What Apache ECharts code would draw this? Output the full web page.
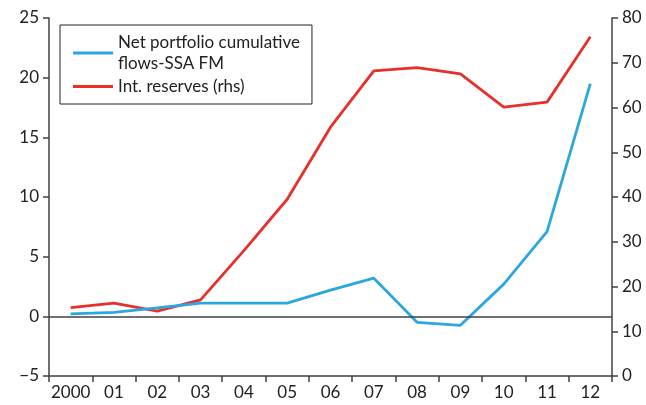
<!DOCTYPE html>
<html>
<head>
<meta charset="utf-8">
<script src="https://cdn.jsdelivr.net/npm/echarts@6/dist/echarts.min.js"></script>
<style>
  html, body { margin: 0; padding: 0; background: #fff; }
  #chart { width: 646px; height: 405px; }
</style>
</head>
<body>
<div id="chart"></div>
<script>
// years on the category axis
const years = ['2000', '01', '02', '03', '04', '05', '06', '07', '08', '09', '10', '11', '12'];
// net portfolio cumulative flows, SSA frontier markets (lhs)
const netFlows = [0.2, 0.33, 0.7, 1.1, 1.1, 1.1, 2.2, 3.2, -0.5, -0.75, 2.7, 7.1, 19.5];
// international reserves (rhs)
const reserves = [15.3, 16.3, 14.5, 17.0, 28.0, 39.5, 55.6, 68.2, 68.9, 67.5, 60.1, 61.2, 75.8];

const axisColor = '#404040';
const font = 'Lato, "Open Sans", sans-serif';

const chart = echarts.init(document.getElementById('chart'));

chart.setOption({
  animation: false,
  textStyle: { fontFamily: font },
  grid: { left: 49, right: 34, top: 18, bottom: 29 },
  legend: {
    orient: 'vertical',
    left: 60,
    top: 25,
    padding: [7, 12, 7, 13],
    itemGap: 2,
    borderColor: '#222',
    borderWidth: 1,
    icon: 'rect',
    itemWidth: 40,
    itemHeight: 3,
    textStyle: { fontSize: 17, color: '#222', fontFamily: font, lineHeight: 21 },
    data: ['Net portfolio cumulative\nflows-SSA FM', 'Int. reserves (rhs)']
  },
  xAxis: {
    type: 'category',
    data: years,
    boundaryGap: true,
    axisLine: { onZero: false, lineStyle: { color: axisColor, width: 1.5 } },
    axisTick: { show: true, interval: 0, length: 6, lineStyle: { color: axisColor, width: 1.5 } },
    axisLabel: { interval: 0, fontSize: 17, color: '#222', margin: 8 },
    splitLine: { show: false }
  },
  yAxis: [
    {
      type: 'value',
      min: -5,
      max: 25,
      interval: 5,
      position: 'left',
      axisLine: { show: true, lineStyle: { color: axisColor, width: 1.5 } },
      axisTick: { show: true, length: 6, lineStyle: { color: axisColor, width: 1.5 } },
      axisLabel: {
        fontSize: 17, color: '#222', margin: 10,
        formatter: v => (v < 0 ? '\u2212' + Math.abs(v) : String(v))
      },
      splitLine: { show: false }
    },
    {
      type: 'value',
      min: 0,
      max: 80,
      interval: 10,
      position: 'right',
      axisLine: { show: true, lineStyle: { color: axisColor, width: 1.5 } },
      axisTick: { show: true, length: 6, lineStyle: { color: axisColor, width: 1.5 } },
      axisLabel: { fontSize: 17, color: '#222', margin: 10 },
      splitLine: { show: false }
    }
  ],
  series: [
    {
      name: 'Net portfolio cumulative\nflows-SSA FM',
      type: 'line',
      yAxisIndex: 0,
      data: netFlows,
      symbol: 'none',
      color: '#2aa7df',
      lineStyle: { width: 2.8, color: '#2aa7df' },
      markLine: {
        silent: true,
        symbol: 'none',
        label: { show: false },
        lineStyle: { color: axisColor, width: 1.5, type: 'solid' },
        data: [{ yAxis: 0 }]
      },
      z: 3
    },
    {
      name: 'Int. reserves (rhs)',
      type: 'line',
      yAxisIndex: 1,
      data: reserves,
      symbol: 'none',
      color: '#e8302a',
      lineStyle: { width: 2.8, color: '#e8302a' },
      z: 2
    }
  ]
});
</script>
</body>
</html>
